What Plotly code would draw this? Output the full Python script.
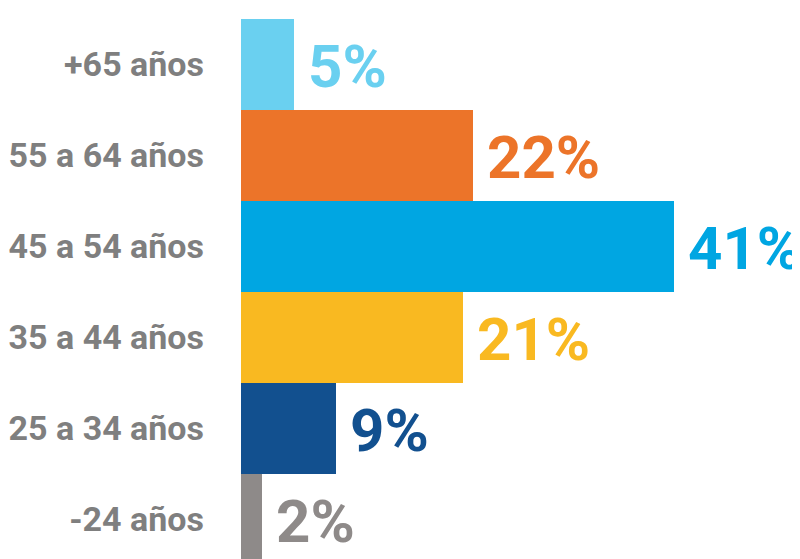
import plotly.graph_objects as go

categories = ["+65 años", "55 a 64 años", "45 a 54 años", "35 a 44 años", "25 a 34 años", "-24 años"]
values = [5, 22, 41, 21, 9, 2]
labels = ["5%", "22%", "41%", "21%", "9%", "2%"]
colors = ["#6ad0f0", "#ec7429", "#00a6e2", "#f9b921", "#12508f", "#8e8a89"]

FONT = "Roboto, Arial, sans-serif"

fig = go.Figure()
fig.add_trace(go.Bar(
    y=categories, x=values, orientation="h",
    marker=dict(color=colors, line=dict(width=0)),
    hoverinfo="skip",
))

for c, v, t, col in zip(categories, values, labels, colors):
    fig.add_annotation(x=v, y=c, text=t, showarrow=False, xanchor="left", yanchor="middle",
                       xshift=12, yshift=-2,
                       font=dict(family=FONT, size=60, color=col, weight="bold"))

# page body has an 8px default margin, so the figure is sized to end at the window edge
fig.update_layout(
    width=792, height=551,
    margin=dict(l=233, r=0, t=11, b=0, autoexpand=False),
    paper_bgcolor="white", plot_bgcolor="white",
    bargap=0, showlegend=False,
    xaxis=dict(range=[0, 52.9], visible=False, fixedrange=True, automargin=False),
    yaxis=dict(range=[5.44, -0.5], showgrid=False, zeroline=False, showline=False,
               ticks="", ticklabelstandoff=36, automargin=False, fixedrange=True,
               tickfont=dict(family=FONT, size=34, color="#7f7f7f", weight="bold")),
)

fig.write_html("out.html")
